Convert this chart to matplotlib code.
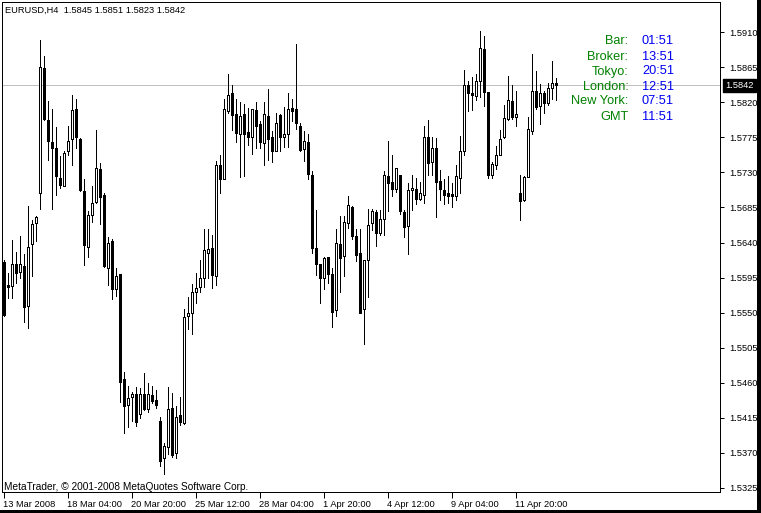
import matplotlib
matplotlib.use("Agg")
import matplotlib.pyplot as plt
from matplotlib.patches import Rectangle
import matplotlib.transforms as mtransforms

# EURUSD H4 bars (open, high, low, close)
opens = [1.5615, 1.5586, 1.5584, 1.5612, 1.5602, 1.5610, 1.5558, 1.5638, 1.5665, 1.5703,
         1.5864, 1.5798, 1.5769, 1.5761, 1.5723, 1.5712, 1.5757, 1.5773, 1.5811, 1.5773,
         1.5706, 1.5634, 1.5675, 1.5692, 1.5735, 1.5701, 1.5607, 1.5642, 1.5580, 1.5599,
         1.5464, 1.5431, 1.5442, 1.5445, 1.5420, 1.5445, 1.5426, 1.5444, 1.5438, 1.5411,
         1.5363, 1.5377, 1.5427, 1.5369, 1.5418, 1.5408, 1.5545, 1.5550, 1.5577, 1.5583,
         1.5594, 1.5627, 1.5633, 1.5597, 1.5740, 1.5721, 1.5809, 1.5832, 1.5805, 1.5780,
         1.5805, 1.5782, 1.5775, 1.5810, 1.5792, 1.5768, 1.5803, 1.5775, 1.5757, 1.5804,
         1.5775, 1.5780, 1.5813, 1.5811, 1.5790, 1.5760, 1.5769, 1.5727, 1.5633, 1.5612,
         1.5595, 1.5621, 1.5599, 1.5553, 1.5638, 1.5623, 1.5665, 1.5686, 1.5648, 1.5626,
         1.5554, 1.5617, 1.5665, 1.5679, 1.5652, 1.5670, 1.5726, 1.5718, 1.5709, 1.5727,
         1.5679, 1.5661, 1.5707, 1.5709, 1.5696, 1.5701, 1.5775, 1.5744, 1.5761, 1.5719,
         1.5708, 1.5703, 1.5702, 1.5700, 1.5723, 1.5757, 1.5842, 1.5832, 1.5828, 1.5847,
         1.5889, 1.5833, 1.5727, 1.5740, 1.5753, 1.5775, 1.5799, 1.5822, 1.5801, 1.5703,
         1.5694, 1.5724, 1.5783, 1.5835, 1.5815, 1.5832, 1.5819, 1.5838, 1.5845]
highs = [1.5618, 1.5601, 1.5643, 1.5628, 1.5649, 1.5625, 1.5687, 1.5669, 1.5674, 1.5900,
         1.5880, 1.5822, 1.5811, 1.5789, 1.5751, 1.5757, 1.5790, 1.5830, 1.5824, 1.5774,
         1.5721, 1.5681, 1.5713, 1.5784, 1.5742, 1.5704, 1.5647, 1.5644, 1.5607, 1.5600,
         1.5474, 1.5455, 1.5448, 1.5454, 1.5453, 1.5472, 1.5460, 1.5456, 1.5450, 1.5416,
         1.5382, 1.5454, 1.5447, 1.5430, 1.5442, 1.5555, 1.5570, 1.5587, 1.5601, 1.5618,
         1.5657, 1.5657, 1.5650, 1.5745, 1.5753, 1.5824, 1.5857, 1.5843, 1.5825, 1.5820,
         1.5818, 1.5813, 1.5812, 1.5820, 1.5796, 1.5820, 1.5837, 1.5783, 1.5807, 1.5805,
         1.5814, 1.5832, 1.5824, 1.5895, 1.5793, 1.5783, 1.5779, 1.5732, 1.5682, 1.5612,
         1.5621, 1.5621, 1.5607, 1.5657, 1.5674, 1.5674, 1.5700, 1.5687, 1.5657, 1.5657,
         1.5618, 1.5683, 1.5683, 1.5682, 1.5682, 1.5732, 1.5771, 1.5752, 1.5736, 1.5727,
         1.5682, 1.5717, 1.5727, 1.5723, 1.5718, 1.5790, 1.5797, 1.5775, 1.5774, 1.5733,
         1.5721, 1.5725, 1.5717, 1.5740, 1.5777, 1.5862, 1.5848, 1.5853, 1.5856, 1.5912,
         1.5905, 1.5833, 1.5744, 1.5764, 1.5785, 1.5817, 1.5854, 1.5842, 1.5835, 1.5727,
         1.5725, 1.5801, 1.5882, 1.5860, 1.5844, 1.5835, 1.5845, 1.5873, 1.5851]
lows = [1.5545, 1.5569, 1.5569, 1.5588, 1.5595, 1.5538, 1.5530, 1.5597, 1.5642, 1.5683,
        1.5797, 1.5746, 1.5683, 1.5701, 1.5710, 1.5712, 1.5752, 1.5740, 1.5761, 1.5706,
        1.5611, 1.5622, 1.5667, 1.5691, 1.5664, 1.5609, 1.5586, 1.5568, 1.5571, 1.5435,
        1.5395, 1.5403, 1.5410, 1.5404, 1.5414, 1.5425, 1.5422, 1.5434, 1.5427, 1.5353,
        1.5342, 1.5368, 1.5364, 1.5363, 1.5406, 1.5407, 1.5529, 1.5523, 1.5562, 1.5576,
        1.5583, 1.5594, 1.5582, 1.5586, 1.5703, 1.5721, 1.5807, 1.5785, 1.5769, 1.5724,
        1.5725, 1.5765, 1.5754, 1.5762, 1.5762, 1.5739, 1.5746, 1.5743, 1.5757, 1.5757,
        1.5763, 1.5763, 1.5796, 1.5786, 1.5757, 1.5745, 1.5722, 1.5626, 1.5598, 1.5562,
        1.5580, 1.5588, 1.5532, 1.5545, 1.5577, 1.5597, 1.5659, 1.5645, 1.5616, 1.5550,
        1.5509, 1.5570, 1.5656, 1.5635, 1.5650, 1.5650, 1.5680, 1.5700, 1.5705, 1.5677,
        1.5647, 1.5625, 1.5682, 1.5689, 1.5694, 1.5691, 1.5727, 1.5727, 1.5673, 1.5694,
        1.5690, 1.5691, 1.5685, 1.5695, 1.5704, 1.5752, 1.5809, 1.5810, 1.5823, 1.5827,
        1.5816, 1.5723, 1.5723, 1.5735, 1.5752, 1.5774, 1.5798, 1.5799, 1.5790, 1.5669,
        1.5693, 1.5724, 1.5779, 1.5811, 1.5792, 1.5806, 1.5817, 1.5825, 1.5823]
closes = [1.5547, 1.5583, 1.5612, 1.5601, 1.5612, 1.5557, 1.5634, 1.5664, 1.5673, 1.5865,
          1.5799, 1.5770, 1.5762, 1.5725, 1.5714, 1.5755, 1.5771, 1.5810, 1.5775, 1.5708,
          1.5637, 1.5675, 1.5691, 1.5736, 1.5698, 1.5610, 1.5640, 1.5580, 1.5597, 1.5461,
          1.5430, 1.5440, 1.5445, 1.5409, 1.5445, 1.5426, 1.5445, 1.5436, 1.5431, 1.5359,
          1.5378, 1.5426, 1.5367, 1.5416, 1.5409, 1.5544, 1.5550, 1.5577, 1.5581, 1.5594,
          1.5630, 1.5632, 1.5598, 1.5739, 1.5722, 1.5811, 1.5830, 1.5804, 1.5781, 1.5803,
          1.5780, 1.5775, 1.5811, 1.5790, 1.5769, 1.5805, 1.5773, 1.5757, 1.5793, 1.5775,
          1.5780, 1.5812, 1.5809, 1.5793, 1.5759, 1.5770, 1.5728, 1.5633, 1.5613, 1.5595,
          1.5620, 1.5599, 1.5551, 1.5640, 1.5620, 1.5667, 1.5688, 1.5649, 1.5624, 1.5550,
          1.5617, 1.5663, 1.5681, 1.5652, 1.5670, 1.5727, 1.5717, 1.5709, 1.5736, 1.5680,
          1.5660, 1.5708, 1.5710, 1.5696, 1.5703, 1.5776, 1.5742, 1.5762, 1.5718, 1.5709,
          1.5701, 1.5700, 1.5700, 1.5726, 1.5757, 1.5843, 1.5832, 1.5829, 1.5847, 1.5890,
          1.5833, 1.5727, 1.5741, 1.5753, 1.5773, 1.5800, 1.5823, 1.5801, 1.5805, 1.5693,
          1.5724, 1.5786, 1.5835, 1.5814, 1.5832, 1.5819, 1.5839, 1.5845, 1.5842]

time_ticks = [0, 16, 32, 48, 64, 80, 96, 112, 128]
time_labels = ["13 Mar 2008", "18 Mar 04:00", "20 Mar 20:00", "25 Mar 12:00", "28 Mar 04:00",
               "1 Apr 20:00", "4 Apr 12:00", "9 Apr 04:00", "11 Apr 20:00"]
price_ticks = [1.5910, 1.5865, 1.5820, 1.5775, 1.5730, 1.5685, 1.5640, 1.5595,
               1.5550, 1.5505, 1.5460, 1.5415, 1.5370, 1.5325]

clock_names = ["Bar:", "Broker:", "Tokyo:", "London:", "New York:", "GMT"]
clock_times = ["01:51", "13:51", "20:51", "12:51", "07:51", "11:51"]

bid = closes[-1]
header = "EURUSD,H4  %.4f %.4f %.4f %.4f" % (opens[-1], highs[-1], lows[-1], closes[-1])

W, H = 761, 513
FONT = "Liberation Sans"
LW = 0.72  # about one pixel

fig = plt.figure(figsize=(W / 100, H / 100), dpi=100, facecolor="white")
# chart frame: x 2..720, y 2..492 (pixels from top-left)
ax = fig.add_axes([2 / W, 21 / H, 718 / W, 490 / H])
ax.set_facecolor("white")

x = list(range(len(opens)))

# wicks, then bodies on top
ax.vlines(x, lows, highs, color="black", lw=LW, zorder=2, antialiased=False)
for i in x:
    o, c = opens[i], closes[i]
    bottom = min(o, c)
    height = max(abs(c - o), 0.00001)
    face = "white" if c >= o else "black"
    ax.add_patch(Rectangle((i - 0.25, bottom), 0.5, height, facecolor=face,
                           edgecolor="black", lw=LW, zorder=3, antialiased=False))

# bid line
ax.axhline(bid, color="#c0c0c0", lw=LW, zorder=1, antialiased=False)

ax.set_xlim(-0.375, 179.125)
ax.set_ylim(1.531922, 1.594921)

for s in ax.spines.values():
    s.set_linewidth(LW)
    s.set_color("black")

ax.yaxis.tick_right()
ax.set_yticks(price_ticks)
ax.set_yticklabels(["%.4f" % p for p in price_ticks], fontfamily=FONT, fontsize=6.7)
ax.set_xticks(time_ticks)
ax.set_xticklabels(time_labels, fontfamily=FONT, fontsize=6.7, ha="left")
ax.tick_params(axis="y", direction="out", length=3, width=LW, pad=3.5)
ax.tick_params(axis="x", direction="out", length=4, width=LW, pad=1.5)
for lab in ax.get_xticklabels():
    lab.set_transform(lab.get_transform() + mtransforms.ScaledTranslation(-0.5 / 72, 0, fig.dpi_scale_trans))

# bid price label on the scale
trans = mtransforms.blended_transform_factory(ax.transAxes, ax.transData)
ax.text(1.0 + 5 / 718, bid, "%.4f" % bid, transform=trans, color="white",
        fontfamily=FONT, fontsize=6.7, va="center", ha="left", zorder=5,
        bbox=dict(boxstyle="square,pad=0.25", facecolor="black", edgecolor="black"),
        clip_on=False)

# texts on the chart
fig.text(5 / W, 1 - 10.5 / H, header, fontfamily=FONT, fontsize=6.7, va="center", ha="left")
fig.text(4 / W, 1 - 487.5 / H, "MetaTrader, \u00a9 2001-2008 MetaQuotes Software Corp.",
         fontfamily=FONT, fontsize=7.3, va="center", ha="left")

for k, (name, t) in enumerate(zip(clock_names, clock_times)):
    y = 1 - (41.5 + 15 * k) / H
    fig.text(628.5 / W, y, name, color="#008000", fontfamily=FONT, fontsize=9.2,
             va="center", ha="right")
    fig.text(642 / W, y, t, color="#0000f0", fontfamily=FONT, fontsize=9.2,
             va="center", ha="left")

# window border strips
fig.patches.append(Rectangle((757 / W, 0), 4 / W, 1, transform=fig.transFigure,
                             facecolor="black", edgecolor="none"))
fig.patches.append(Rectangle((0, 0), 1, 3 / H, transform=fig.transFigure,
                             facecolor="black", edgecolor="none"))

fig.savefig("out.png", dpi=100, facecolor="white")
